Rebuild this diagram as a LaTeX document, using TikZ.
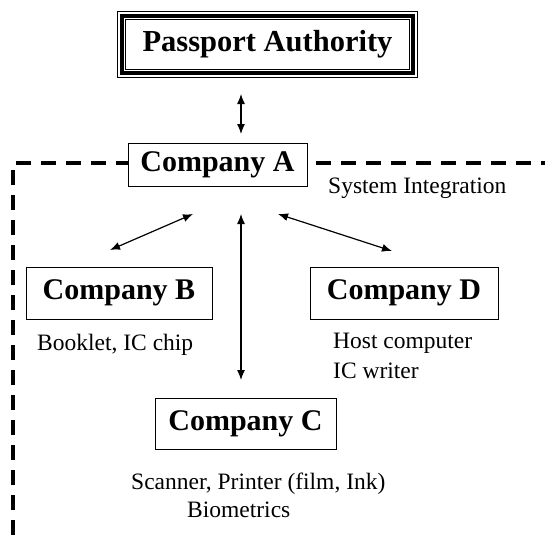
\documentclass[tikz,border=0pt]{standalone}
\usepackage{fontspec}
\setmainfont{Liberation Serif}
\usetikzlibrary{arrows.meta}
\begin{document}
\begin{tikzpicture}[x=1pt,y=-1pt,
  cbox/.style={draw=black, line width=1pt, fill=white, inner sep=0pt,
    font=\fontsize{30}{36}\selectfont\bfseries},
  lbl/.style={anchor=base west, inner sep=0pt, font=\fontsize{23.5}{28}\selectfont},
  dbl/.style={line width=1.2pt, {Latex[length=10pt,width=8pt]}-{Latex[length=10pt,width=8pt]}},
  boundary/.style={line width=4.5pt, dash pattern=on 15pt off 10pt}]
\useasboundingbox (0,0) rectangle (545,535);
% dashed boundary
\draw[boundary] (13,535) -- (13,163) -- (545,163);
% Passport Authority (triple border)
\node[inner sep=0pt, minimum width=299pt, minimum height=65pt,
  font=\fontsize{30.5}{36}\selectfont\bfseries] (pa) at (267.5,44.5) {Passport Authority};
\draw[line width=1pt] (pa.north west) rectangle (pa.south east);
\draw[line width=3.5pt] ([shift={(4,4)}]pa.north west) rectangle ([shift={(-4,-4)}]pa.south east);
\draw[line width=1pt] ([shift={(8,8)}]pa.north west) rectangle ([shift={(-8,-8)}]pa.south east);
% Companies
\node[cbox, minimum width=179pt, minimum height=43pt] (a) at (217.5,164.5) {Company A};
\node[cbox, minimum width=186pt, minimum height=52pt] (b) at (119,293) {Company B};
\node[cbox, minimum width=188pt, minimum height=52pt] (d) at (404,293) {Company D};
\node[cbox, minimum width=181pt, minimum height=51pt] (c) at (245.5,423.5) {Company C};
% labels
\node[lbl] (si) at (328,193) {System Integration};
\node[lbl] (bl) at (37,350) {Booklet, IC chip};
\node[lbl] (d1) at (333,348) {Host computer};
\node[lbl] (d2) at (333,378) {IC writer};
\node[lbl] (c1) at (131,489) {Scanner, Printer (film, Ink)};
\node[lbl] (c2) at (187,517) {Biometrics};
% arrow end points
\coordinate (paS) at (241,94);
\coordinate (aN) at (241,134);
\coordinate (aSW) at (193,214);
\coordinate (bNE) at (110,250);
\coordinate (aSE) at (278,214);
\coordinate (dNW) at (392,251);
\coordinate (aS) at (241,214);
\coordinate (cN) at (241,380);
\draw[dbl] (paS) -- (aN);
\draw[dbl] (aSW) -- (bNE);
\draw[dbl] (aSE) -- (dNW);
\draw[dbl] (aS) -- (cN);
\end{tikzpicture}
\end{document}
